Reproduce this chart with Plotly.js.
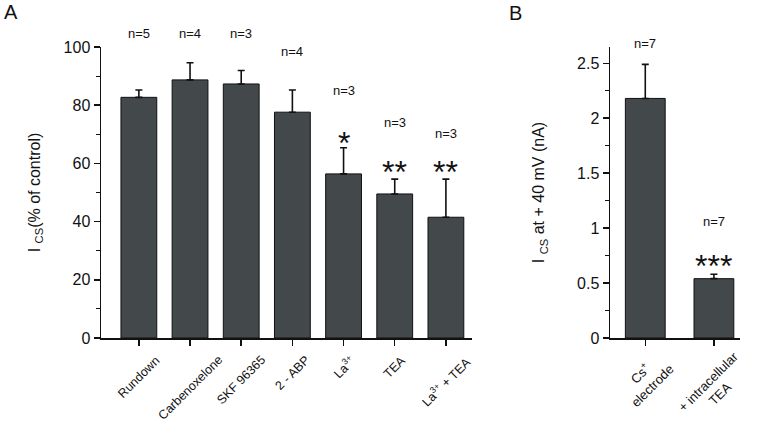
<!DOCTYPE html>
<html>
<head>
<meta charset="utf-8">
<script src="https://cdn.plot.ly/plotly-3.0.1.min.js"></script>
<style>html,body{margin:0;padding:0;background:#fff;}#chart{width:780px;height:425px;}</style>
</head>
<body>
<div id="chart"></div>
<script>
// Panel A data
const catsA = ['Rundown', 'Carbenoxelone', 'SKF 96365', '2 - ABP', 'La<sup>3+</sup>', 'TEA', 'La<sup>3+</sup> + TEA'];
const valsA = [82.7, 88.7, 87.3, 77.6, 56.4, 49.5, 41.5];
const errA  = [2.5, 5.9, 4.6, 7.6, 9.0, 5.1, 13.1];
const nA    = ['n=5', 'n=4', 'n=3', 'n=4', 'n=3', 'n=3', 'n=3'];
const sigA  = ['', '', '', '', '*', '**', '**'];

// Panel B data
const catsB = ['Cs<sup>+</sup><br>electrode', '+ intracellular<br>TEA'];
const valsB = [2.18, 0.54];
const errB  = [0.31, 0.04];
const nB    = ['n=7', 'n=7'];
const sigB  = ['', '***'];

const FONT = 'Liberation Sans, Arial, sans-serif';
const BAR = '#43484b';
const INK = '#111';

const traces = [
  {
    type: 'bar', x: catsA.map((_, i) => i), y: valsA, xaxis: 'x', yaxis: 'y',
    width: 0.7,
    marker: {color: BAR, line: {color: INK, width: 1}},
    error_y: {type: 'data', symmetric: false, array: errA, arrayminus: errA.map(() => 0),
              color: INK, thickness: 1.6, width: 3.5},
    hoverinfo: 'none'
  },
  {
    type: 'bar', x: catsB.map((_, i) => i), y: valsB, xaxis: 'x2', yaxis: 'y2',
    width: 0.58,
    marker: {color: BAR, line: {color: INK, width: 1}},
    error_y: {type: 'data', symmetric: false, array: errB, arrayminus: errB.map(() => 0),
              color: INK, thickness: 1.6, width: 3.5},
    hoverinfo: 'none'
  }
];

const annotations = [];
// label heights as fraction of the y-axis domain
const nYA = [1.048, 1.048, 1.048, 0.983, 0.852, 0.742, 0.704];
const sYA = [0, 0, 0, 0, 0.698, 0.598, 0.598];
nA.forEach((t, i) => annotations.push({xref: 'x', yref: 'y domain', x: i, y: nYA[i], text: t, showarrow: false,
  font: {family: FONT, size: 13, color: INK}, yanchor: 'middle'}));
sigA.forEach((t, i) => { if (t) annotations.push({xref: 'x', yref: 'y domain', x: i, y: sYA[i], text: t, showarrow: false,
  font: {family: FONT, size: 32, color: INK}, yanchor: 'middle', yshift: -8}); });
const nYB = [1.012, 0.400];
const sYB = [0, 0.276];
nB.forEach((t, i) => annotations.push({xref: 'x2', yref: 'y2 domain', x: i, y: nYB[i], text: t, showarrow: false,
  font: {family: FONT, size: 13, color: INK}, yanchor: 'middle'}));
sigB.forEach((t, i) => { if (t) annotations.push({xref: 'x2', yref: 'y2 domain', x: i, y: sYB[i], text: t, showarrow: false,
  font: {family: FONT, size: 32, color: INK}, yanchor: 'middle', yshift: -8}); });

// rotated category labels, centred under each tick
catsA.forEach((t, i) => annotations.push({xref: 'x', yref: 'paper', x: i, y: 1 - 350/425, text: t, showarrow: false,
  textangle: -45, xanchor: 'center', yanchor: 'top', font: {family: FONT, size: 12.5, color: INK}}));
catsB.forEach((t, i) => annotations.push({xref: 'x2', yref: 'paper', x: i, y: 1 - 346/425, text: t, showarrow: false,
  textangle: -45, xanchor: 'center', yanchor: 'top', align: 'center', font: {family: FONT, size: 13, color: INK}}));

// panel letters
annotations.push({xref: 'paper', yref: 'paper', x: 11/780, y: 1 - 12/425, text: 'A', showarrow: false,
  font: {family: FONT, size: 20, color: INK}, xanchor: 'center', yanchor: 'middle'});
annotations.push({xref: 'paper', yref: 'paper', x: 515/780, y: 1 - 13/425, text: 'B', showarrow: false,
  font: {family: FONT, size: 20, color: INK}, xanchor: 'center', yanchor: 'middle'});

const axisCommon = {
  showline: true, linecolor: INK, linewidth: 1.5, showgrid: false, zeroline: false,
  ticks: 'outside', ticklen: 6, tickwidth: 1.5, tickcolor: INK,
  tickfont: {family: FONT, size: 12, color: INK}
};

const layout = {
  width: 780, height: 425,
  margin: {l: 0, r: 0, t: 0, b: 0},
  paper_bgcolor: '#fff', plot_bgcolor: '#fff',
  showlegend: false,
  font: {family: FONT, color: INK},
  xaxis: Object.assign({}, axisCommon, {
    domain: [101/780, 472/780], range: [-0.74, 6.51],
    tickmode: 'array', tickvals: catsA.map((_, i) => i), showticklabels: false, anchor: 'y'
  }),
  yaxis: Object.assign({}, axisCommon, {
    domain: [1 - 338/425, 1 - 47/425], range: [0, 100], dtick: 20,
    tickfont: {family: FONT, size: 16, color: INK},
    minor: {dtick: 10, ticklen: 4, tickwidth: 1.2, tickcolor: INK, ticks: 'outside'},
    anchor: 'x',
    title: {text: 'I <sub>CS</sub>(% of control)', font: {family: FONT, size: 16, color: INK}, standoff: 19}
  }),
  xaxis2: Object.assign({}, axisCommon, {
    domain: [610/780, 740/780], range: [-0.514, 1.38],
    tickmode: 'array', tickvals: catsB.map((_, i) => i), showticklabels: false, anchor: 'y2'
  }),
  yaxis2: Object.assign({}, axisCommon, {
    domain: [1 - 338/425, 1 - 47/425], range: [0, 2.648], dtick: 0.5,
    tickfont: {family: FONT, size: 16, color: INK},
    minor: {dtick: 0.25, ticklen: 4, tickwidth: 1.2, tickcolor: INK, ticks: 'outside'},
    anchor: 'x2',
    title: {text: 'I <sub>CS</sub> at + 40 mV (nA)', font: {family: FONT, size: 16, color: INK}, standoff: 28}
  }),
  annotations: annotations
};

Plotly.newPlot('chart', traces, layout, {displayModeBar: false, staticPlot: true});
</script>
</body>
</html>
